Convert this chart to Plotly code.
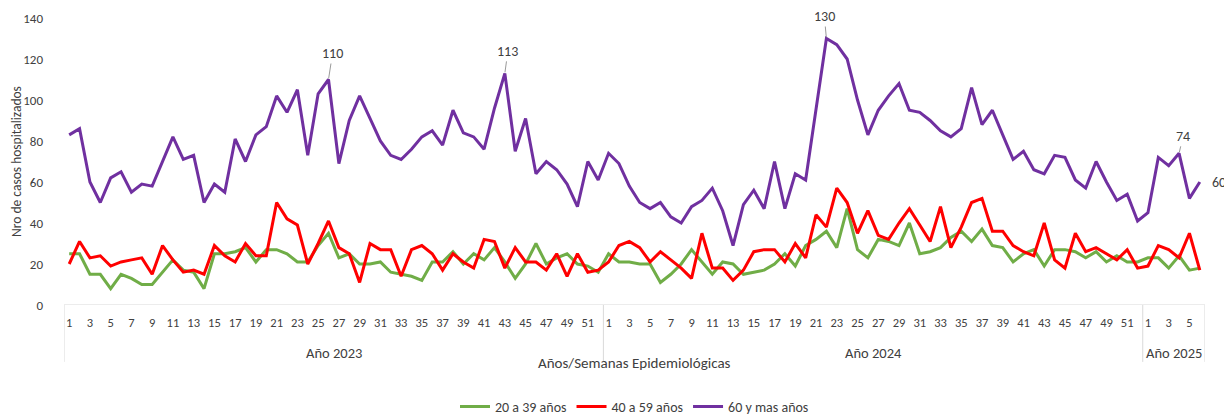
import plotly.graph_objects as go

# ---- categories ----
years = ["Año 2023", "Año 2024", "Año 2025"]
weeks_per_year = [52, 52, 6]

# ---- series values (weekly hospitalized cases) ----
g20_39 = [25, 25, 15, 15, 8, 15, 13, 10, 10, 16, 22, 17, 16, 8, 25, 25, 26, 28, 21, 27,
          27, 25, 21, 21, 29, 35, 23, 25, 20, 20, 21, 16, 15, 14, 12, 21, 21, 26, 20, 25,
          22, 28, 21, 13, 20, 30, 20, 23, 25, 20, 19, 16,
          25, 21, 21, 20, 20, 11, 15, 20, 27, 21, 15, 21, 20, 15, 16, 17, 20, 25, 19, 29,
          32, 36, 28, 47, 27, 23, 32, 31, 29, 40, 25, 26, 28, 33, 36, 31, 37, 29, 28, 21,
          25, 27, 19, 27, 27, 26, 23, 26, 21, 24, 21, 21,
          23, 23, 18, 24, 17, 18]
g40_59 = [20, 31, 23, 24, 19, 21, 22, 23, 15, 29, 22, 16, 17, 15, 29, 24, 21, 30, 24, 24,
          50, 42, 39, 20, 30, 41, 28, 25, 11, 30, 27, 27, 14, 27, 29, 25, 17, 25, 21, 18,
          32, 31, 18, 28, 21, 21, 17, 25, 14, 25, 16, 17,
          21, 29, 31, 28, 21, 26, 22, 18, 13, 35, 18, 18, 12, 17, 26, 27, 27, 21, 30, 23,
          44, 38, 57, 50, 35, 46, 34, 32, 40, 47, 39, 31, 48, 28, 38, 50, 52, 36, 36, 29,
          26, 24, 40, 22, 18, 35, 26, 28, 25, 22, 27, 18,
          19, 29, 27, 23, 35, 17]
g60plus = [83, 86, 60, 50, 62, 65, 55, 59, 58, 70, 82, 71, 73, 50, 59, 55, 81, 70, 83, 87,
           102, 94, 105, 73, 103, 110, 69, 90, 102, 91, 80, 73, 71, 76, 82, 85, 78, 95, 84, 82,
           76, 96, 113, 75, 91, 64, 70, 66, 59, 48, 70, 61,
           74, 69, 58, 50, 47, 50, 43, 40, 48, 51, 57, 46, 29, 49, 56, 47, 70, 47, 64, 61,
           95, 130, 127, 120, 100, 83, 95, 102, 108, 95, 94, 90, 85, 82, 86, 106, 88, 95, 83, 71,
           75, 66, 64, 73, 72, 61, 57, 70, 60, 51, 54, 41,
           45, 72, 68, 74, 52, 60]

series_names = ["20 a 39 años", "40 a 59 años", "60 y mas años"]
series_colors = ["#70AD47", "#FF0000", "#7030A0"]

# labelled points of the 60+ series (index in the full week sequence)
label_idx = [25, 42, 73, 107]
label_offsets = [(4, -26), (3, -22), (-2, -22), (4, -17)]

# ---- build category positions ----
week_labels = []
year_of = []
for y, n in zip(years, weeks_per_year):
    for w in range(1, n + 1):
        week_labels.append(str(w))
        year_of.append(y)
xs = list(range(len(week_labels)))

fig = go.Figure()
for name, vals, col in zip(series_names, [g20_39, g40_59, g60plus], series_colors):
    fig.add_trace(go.Scatter(x=xs, y=vals, mode="lines", name=name,
                             line=dict(color=col, width=3)))

tickvals = [i for i in xs if int(week_labels[i]) % 2 == 1]
ticktext = [week_labels[i] for i in tickvals]

plot_h = 305.5 - 18
def py(px_below):
    return -px_below / plot_h

FONT = "Carlito, Calibri, Noto Sans, sans-serif"
TXT = "#404040"

shapes = []
annotations = []
start = 0
bounds = [-0.5]
for y, n in zip(years, weeks_per_year):
    end = start + n
    bounds.append(end - 0.5)
    annotations.append(dict(x=(start + end - 1) / 2, y=py(48), xref="x", yref="paper",
                            text=y, showarrow=False, yanchor="middle",
                            font=dict(size=14.5, color=TXT)))
    start = end
for b in bounds:
    shapes.append(dict(type="line", xref="x", yref="paper", x0=b, x1=b, y0=0, y1=py(57),
                       line=dict(color="#D9D9D9", width=1)))
shapes.append(dict(type="line", xref="paper", yref="y", x0=0, x1=1, y0=0, y1=0,
                   line=dict(color="#D9D9D9", width=1)))

annotations.append(dict(x=0.5, y=py(58), xref="paper", yref="paper",
                        text="Años/Semanas Epidemiológicas", showarrow=False,
                        yanchor="middle", font=dict(size=15, color=TXT)))

for i, (ax, ay) in zip(label_idx, label_offsets):
    annotations.append(dict(x=xs[i], y=g60plus[i], xref="x", yref="y", text=str(g60plus[i]),
                            showarrow=True, arrowhead=0, arrowwidth=0.8, arrowcolor="#7F7F7F",
                            ax=ax, ay=ay, standoff=1, font=dict(size=14, color=TXT)))
last = xs[-1]
annotations.append(dict(x=last, y=g60plus[-1], xref="x", yref="y", text=str(g60plus[-1]),
                        showarrow=False, xshift=19, font=dict(size=14, color=TXT)))

# the page body adds an 8px offset; the figure is sized so the plot lands where intended
fig.update_layout(
    width=1224, height=411,
    margin=dict(l=56, r=27, t=10, b=113.5, autoexpand=False),
    paper_bgcolor="white", plot_bgcolor="white",
    font=dict(family=FONT, size=12, color="#595959"),
    showlegend=True,
    legend=dict(orientation="h", x=0.5, xanchor="center", y=py(102), yanchor="middle",
                font=dict(size=14, color=TXT), itemwidth=30, tracegroupgap=0),
    shapes=shapes,
    annotations=annotations,
)
fig.update_xaxes(range=[-0.5, len(xs) - 0.5], tickmode="array", tickvals=tickvals,
                 ticktext=ticktext, showgrid=False, zeroline=False, showline=False,
                 ticks="", ticklabelstandoff=8, tickfont=dict(size=12.5, color=TXT),
                 automargin=False, fixedrange=True)
fig.update_yaxes(range=[0, 140], tickvals=[0, 20, 40, 60, 80, 100, 120, 140],
                 showgrid=False, zeroline=False, showline=False, ticks="",
                 ticklabelstandoff=20, tickfont=dict(size=13, color=TXT),
                 title=dict(text="Nro de casos hospitalizados", standoff=0,
                            font=dict(size=13.5, color=TXT)),
                 automargin=False, fixedrange=True)

fig.write_html("out.html")
